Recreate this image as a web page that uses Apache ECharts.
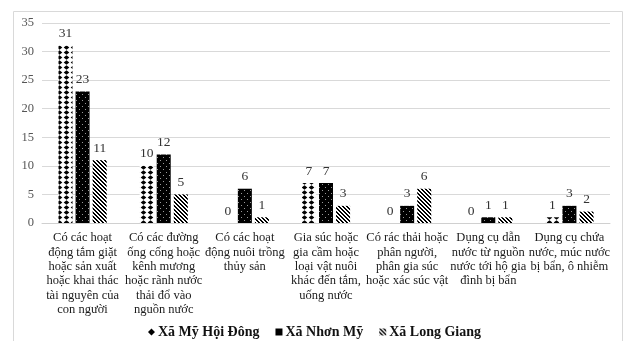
<!DOCTYPE html>
<html>
<head>
<meta charset="utf-8">
<script src="https://cdn.jsdelivr.net/npm/echarts@6/dist/echarts.min.js"></script>
<style>
  html, body { margin: 0; padding: 0; background: #fff; }
  #chart { width: 629px; height: 341px; }
</style>
</head>
<body>
<div id="chart"></div>
<script>
// Categories (wrapped as they are printed under the axis)
const categories = [
  "Có các hoạt\nđộng tắm giặt\nhoặc sản xuất\nhoặc khai thác\ntài nguyên của\ncon người",
  "Có các đường\nống cống hoặc\nkênh mương\nhoặc rãnh nước\nthải đổ vào\nnguồn nước",
  "Có các hoạt\nđộng nuôi trồng\nthủy sản",
  "Gia súc hoặc\ngia cầm hoặc\nloại vật nuôi\nkhác đến tắm,\nuống nước",
  "Có rác thải hoặc\nphân người,\nphân gia súc\nhoặc xác súc vật",
  "Dụng cụ dẫn\nnước từ nguồn\nnước tới hộ gia\nđình bị bẩn",
  "Dụng cụ chứa\nnước, múc nước\nbị bẩn, ô nhiễm"
];
const seriesNames = ["Xã Mỹ Hội Đông", "Xã Nhơn Mỹ", "Xã Long Giang"];
const myHoiDong = [31, 10, 0, 7, 0, 0, 1];
const nhonMy = [23, 12, 6, 7, 3, 1, 3];
const longGiang = [11, 5, 1, 3, 6, 1, 2];
const yTicks = { min: 0, max: 35, interval: 5 };

// Fill patterns drawn on small canvases
function diamondPattern() {
  const c = document.createElement('canvas');
  c.width = 7; c.height = 5;
  const g = c.getContext('2d');
  g.fillStyle = '#fff'; g.fillRect(0, 0, 7, 5);
  g.fillStyle = '#000';
  g.beginPath();
  g.moveTo(3.5, 0.3); g.lineTo(6.3, 2.5); g.lineTo(3.5, 4.7); g.lineTo(0.7, 2.5);
  g.closePath(); g.fill();
  return c;
}
function dotPattern() {
  const c = document.createElement('canvas');
  c.width = 6; c.height = 6;
  const g = c.getContext('2d');
  g.fillStyle = '#000'; g.fillRect(0, 0, 6, 6);
  g.fillStyle = '#9a9a9a';
  g.fillRect(1, 1, 1, 1);
  g.fillRect(4, 4, 1, 1);
  return c;
}
function hatchPattern() {
  const c = document.createElement('canvas');
  c.width = 4; c.height = 4;
  const g = c.getContext('2d');
  g.fillStyle = '#fff'; g.fillRect(0, 0, 4, 4);
  g.fillStyle = '#000';
  for (let i = 0; i < 4; i++) {
    g.fillRect(i, i, 1, 1);
    g.fillRect((i + 1) % 4, i, 1, 1);
  }
  return c;
}
const fills = [
  { image: diamondPattern(), repeat: 'repeat' },
  { image: dotPattern(), repeat: 'repeat' },
  { image: hatchPattern(), repeat: 'repeat' }
];
const values = [myHoiDong, nhonMy, longGiang];
const serif = '"Liberation Serif", "DejaVu Serif", serif';

const chart = echarts.init(document.getElementById('chart'));
chart.setOption({
  animation: false,
  graphic: [{
    type: 'rect',
    shape: { x: 13.5, y: 11.5, width: 609, height: 340 },
    style: { fill: 'none', stroke: '#d9d9d9', lineWidth: 1 },
    silent: true
  }],
  grid: { left: 42, right: 19, top: 23, bottom: 118, containLabel: false },
  legend: {
    top: 320,
    left: 'center',
    itemWidth: 7,
    itemHeight: 7,
    itemGap: 16,
    textStyle: { fontFamily: serif, fontWeight: 'bold', fontSize: 14, color: '#111', padding: [0, 0, 0, -2] },
    data: [
      { name: seriesNames[0], icon: 'diamond', itemStyle: { color: '#000' } },
      { name: seriesNames[1], icon: 'rect', itemStyle: { color: '#000' } },
      { name: seriesNames[2], icon: 'rect', itemStyle: { color: fills[2] } }
    ]
  },
  xAxis: {
    type: 'category',
    data: categories,
    axisTick: { show: false },
    axisLine: { lineStyle: { color: '#d0d0d0' } },
    axisLabel: {
      interval: 0,
      margin: 8,
      fontFamily: serif,
      fontSize: 12.5,
      lineHeight: 14.3,
      color: '#1a1a1a',
      align: 'center'
    }
  },
  yAxis: {
    type: 'value',
    min: yTicks.min,
    max: yTicks.max,
    interval: yTicks.interval,
    axisLine: { show: false },
    axisTick: { show: false },
    splitLine: { lineStyle: { color: '#d9d9d9' } },
    axisLabel: { fontFamily: serif, fontSize: 12.5, color: '#555', margin: 8 }
  },
  series: values.map((v, i) => ({
    name: seriesNames[i],
    type: 'bar',
    data: v,
    barWidth: 14,
    barGap: '22%',
    itemStyle: { color: fills[i] },
    label: {
      show: true,
      position: 'top',
      distance: 5,
      fontFamily: serif,
      fontSize: 13.5,
      color: '#333'
    }
  }))
});
</script>
</body>
</html>
